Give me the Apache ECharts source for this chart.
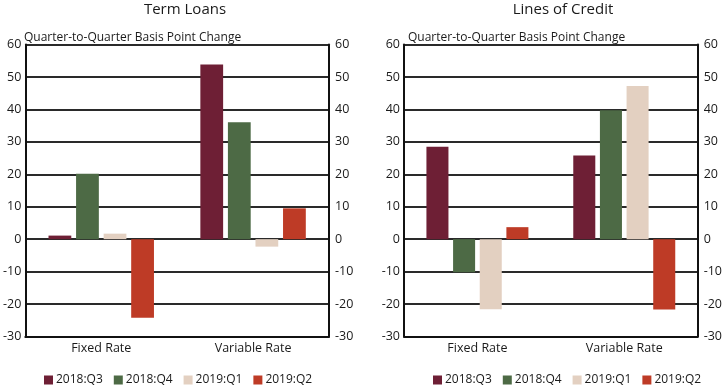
<!DOCTYPE html>
<html>
<head>
<meta charset="utf-8">
<script src="https://cdn.jsdelivr.net/npm/echarts@6/dist/echarts.min.js"></script>
<style>html,body{margin:0;padding:0;background:#fff}#c{width:725px;height:389px}</style>
</head>
<body>
<div id="c"></div>
<script>
const categories = ['Fixed Rate', 'Variable Rate'];
const seriesNames = ['2018:Q3', '2018:Q4', '2019:Q1', '2019:Q2'];
const termQ3 = [1.1, 53.8];
const termQ4 = [20.2, 36];
const termQ1 = [1.7, -2.3];
const termQ2 = [-24.2, 9.5];
const creditQ3 = [28.5, 25.8];
const creditQ4 = [-10.2, 39.7];
const creditQ1 = [-21.6, 47.2];
const creditQ2 = [3.7, -21.7];
const yTicks = [-30, -20, -10, 0, 10, 20, 30, 40, 50, 60];
const panelTitles = ['Term Loans', 'Lines of Credit'];
const subTitle = 'Quarter-to-Quarter Basis Point Change';

const colors = ['#6E1F35', '#4D6A45', '#E3D0C1', '#BE3B26'];
const FONT = 'Open Sans';
const termData = [termQ3, termQ4, termQ1, termQ2];
const creditData = [creditQ3, creditQ4, creditQ1, creditQ2];

const chart = echarts.init(document.getElementById('c'), null, {renderer: 'canvas'});

function yAx(gi, pos) {
  return {
    type: 'value', gridIndex: gi, position: pos,
    min: yTicks[0], max: yTicks[yTicks.length - 1], interval: 10,
    axisLine: {show: true, onZero: false, lineStyle: {color: '#111', width: 2}},
    axisTick: {show: false},
    splitLine: {show: pos === 'left', lineStyle: {color: '#2a2a2a', width: 2}},
    axisLabel: {color: '#1a1a1a', fontFamily: FONT, fontSize: 12.5, margin: pos === 'left' ? 4 : 6}
  };
}
function xAx(gi) {
  return {
    type: 'category', gridIndex: gi, data: categories,
    axisLine: {show: true, onZero: false, lineStyle: {color: '#111', width: 2}},
    axisTick: {show: false},
    axisLabel: {color: '#1a1a1a', fontFamily: FONT, fontSize: 12.5, margin: 5}
  };
}
const series = [];
[termData, creditData].forEach((set, gi) => {
  set.forEach((vals, i) => {
    series.push({
      name: seriesNames[i], type: 'bar',
      xAxisIndex: gi, yAxisIndex: gi * 2,
      data: vals, barWidth: '15%', barGap: '21%',
      itemStyle: {color: colors[i]},
      emphasis: {disabled: true}
    });
  });
});
function legendAt(left) {
  return {
    left: left, top: 374, padding: 0, itemWidth: 9, itemHeight: 9, itemGap: 11,
    icon: 'rect', data: seriesNames,
    textStyle: {color: '#1a1a1a', fontFamily: FONT, fontSize: 12, padding: [0,0,0,-2]},
    selectedMode: false
  };
}
chart.setOption({
  animation: false,
  color: colors,
  title: [
    {text: panelTitles[0], left: 180, top: -3, textAlign: 'center', textStyle: {fontFamily: FONT, fontSize: 15, fontWeight: 'normal', color: '#1a1a1a'}},
    {text: panelTitles[1], left: 558, top: -3, textAlign: 'center', textStyle: {fontFamily: FONT, fontSize: 15, fontWeight: 'normal', color: '#1a1a1a'}},
    {text: subTitle, left: 19, top: 27, textStyle: {fontFamily: FONT, fontSize: 12, fontWeight: 'normal', color: '#1a1a1a'}},
    {text: subTitle, left: 403, top: 27, textStyle: {fontFamily: FONT, fontSize: 12, fontWeight: 'normal', color: '#1a1a1a'}}
  ],
  legend: [legendAt(44), legendAt(433)],
  grid: [
    {left: 21, right: 396, top: 44.5, bottom: 52.5},
    {left: 404, right: 21, top: 44.5, bottom: 52.5}
  ],
  xAxis: [xAx(0), xAx(1)],
  yAxis: [yAx(0, 'left'), yAx(0, 'right'), yAx(1, 'left'), yAx(1, 'right')],
  series: series
});
</script>
</body>
</html>
